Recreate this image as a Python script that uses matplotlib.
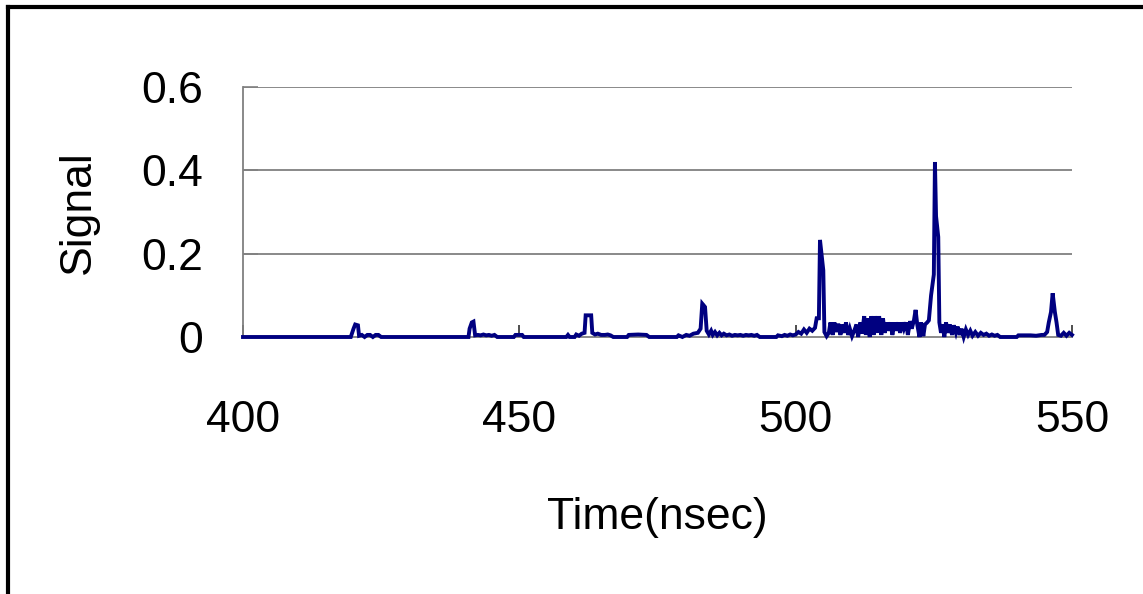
import matplotlib
matplotlib.use("Agg")
import matplotlib.pyplot as plt
from matplotlib import font_manager
from matplotlib.lines import Line2D

# ---- data ----
time_ns = [
    400.0, 419.5, 420.0, 420.3, 420.8, 421.0, 421.5, 422.0, 422.5, 423.0, 423.5, 424.0, 424.5, 425.0,
    440.8, 441.0, 441.4, 441.7, 442.0, 442.5, 443.0, 443.5, 444.0, 444.5, 445.0, 445.5, 446.0,
    449.0, 449.3, 450.5, 450.8,
    458.5, 458.8, 459.1, 460.0, 460.3, 460.8, 461.3, 461.8, 462.0, 463.0, 463.2, 463.7, 464.2, 464.8,
    465.5, 466.0, 466.5, 467.0, 469.5, 469.8, 471.5, 473.0, 473.5,
    478.5, 478.8, 479.5, 480.2, 480.8, 481.5, 482.3, 482.8, 483.1, 483.6, 483.9, 484.3, 484.7, 485.0,
    485.4, 485.8, 486.2, 486.6, 487.0, 487.5, 488.0, 488.5, 489.0, 489.5, 490.0, 490.5, 491.0, 491.5,
    492.0, 492.5, 493.0, 493.5,
    496.5, 496.8, 497.5, 498.0, 498.5, 499.0, 499.5, 500.0, 500.5, 501.0, 501.5, 502.0, 502.5, 503.0,
    503.5, 503.8, 504.2, 504.4, 505.0, 505.2, 505.6,
    506.0, 506.3, 506.7, 507.0, 507.4, 507.7, 508.1, 508.4, 508.8, 509.1, 509.5, 509.8, 510.2, 510.6,
    511.0, 511.3, 511.7, 512.0, 512.4, 512.7, 513.0, 513.4, 513.7, 514.1, 514.4, 514.8, 515.1, 515.5,
    515.8, 516.1, 516.5, 516.8, 517.2, 517.5, 517.9, 518.2, 518.6, 518.9, 519.3, 519.6, 520.0, 520.3,
    520.7, 521.0, 521.4, 521.7, 522.0, 522.4, 522.7, 523.1, 523.4, 523.8, 524.1,
    524.5, 525.0, 525.2, 525.4, 525.8, 526.0, 526.3, 526.6, 526.9, 527.2, 527.6, 527.9, 528.3, 528.6,
    529.0, 529.3, 529.7, 530.0, 530.4, 530.8, 531.2, 531.6, 532.0, 532.5, 533.0, 533.5, 534.0, 534.5,
    535.0, 535.5, 536.0, 536.5, 537.0,
    540.0, 540.3, 542.5, 543.5, 544.5, 545.0, 545.5, 545.8, 546.2, 546.5, 546.9, 547.2, 547.5, 548.0,
    548.5, 549.0, 549.5, 550.0,
]
signal = [
    0.0, 0.0, 0.02, 0.03, 0.028, 0.003, 0.005, 0.0, 0.005, 0.005, 0.0, 0.005, 0.005, 0.0,
    0.0, 0.02, 0.035, 0.037, 0.004, 0.005, 0.004, 0.006, 0.004, 0.005, 0.003, 0.005, 0.0,
    0.0, 0.005, 0.005, 0.0,
    0.0, 0.005, 0.0, 0.0, 0.006, 0.003, 0.008, 0.01, 0.052, 0.052, 0.01, 0.006, 0.008, 0.005,
    0.005, 0.006, 0.004, 0.0, 0.0, 0.005, 0.006, 0.005, 0.0,
    0.0, 0.004, 0.0, 0.005, 0.003, 0.008, 0.01, 0.02, 0.08, 0.072, 0.015, 0.006, 0.015, 0.005,
    0.012, 0.004, 0.01, 0.004, 0.008, 0.004, 0.006, 0.003, 0.005, 0.004, 0.005, 0.003, 0.005, 0.004,
    0.005, 0.003, 0.005, 0.0,
    0.0, 0.004, 0.002, 0.005, 0.003, 0.006, 0.004, 0.006, 0.012, 0.008, 0.018, 0.01, 0.02, 0.015,
    0.022, 0.045, 0.045, 0.233, 0.16, 0.012, 0.002,
    0.01, 0.035, 0.005, 0.035, 0.012, 0.032, 0.005, 0.03, 0.01, 0.035, 0.005, 0.02, 0.002, 0.015,
    0.03, 0.0, 0.035, 0.008, 0.05, 0.005, 0.045, 0.0, 0.05, 0.005, 0.05, 0.01, 0.05, 0.005,
    0.045, 0.01, 0.035, 0.015, 0.035, 0.005, 0.035, 0.015, 0.035, 0.01, 0.035, 0.02, 0.035, 0.005,
    0.038, 0.02, 0.04, 0.065, 0.03, 0.0, 0.035, 0.002, 0.03, 0.035, 0.04,
    0.1, 0.15, 0.42, 0.29, 0.24, 0.035, 0.01, 0.03, 0.0, 0.035, 0.01, 0.03, 0.005, 0.028,
    0.01, 0.025, 0.005, 0.02, 0.0, 0.018, 0.005, 0.015, 0.003, 0.012, 0.003, 0.01, 0.005, 0.008,
    0.003, 0.006, 0.003, 0.005, 0.0,
    0.0, 0.004, 0.004, 0.003, 0.005, 0.005, 0.012, 0.035, 0.06, 0.105, 0.06, 0.035, 0.005, 0.003,
    0.01, 0.003, 0.01, 0.005,
]
x_ticks = [400, 450, 500, 550]
y_ticks = [0, 0.2, 0.4, 0.6]
y_tick_labels = ["0", "0.2", "0.4", "0.6"]
x_label = "Time(nsec)"
y_label = "Signal"

# ---- fonts ----
names = {f.name for f in font_manager.fontManager.ttflist}
if "Liberation Sans Narrow" in names:
    fam, fs = "Liberation Sans Narrow", 37
else:
    fam, fs = "Liberation Sans", 32
plt.rcParams["font.family"] = [fam, "DejaVu Sans"]

W, H = 1143, 594
fig = plt.figure(figsize=(W / 100, H / 100), dpi=100)
ax = fig.add_axes([243 / W, 1 - 337 / H, (1072 - 243) / W, (337 - 87) / H])

ax.plot(time_ns, signal, color="#000080", lw=2.8, clip_on=False, zorder=3,
        solid_joinstyle="miter")
ax.set_xlim(400, 550)
ax.set_ylim(0, 0.6)

for v in y_ticks[1:]:
    ax.axhline(v, color="#808080", lw=1.3, zorder=1)

for s in ["top", "right"]:
    ax.spines[s].set_visible(False)
for s in ["left", "bottom"]:
    ax.spines[s].set_color("#808080")
    ax.spines[s].set_linewidth(1.3)

ax.set_xticks(x_ticks)
ax.set_xticklabels([str(t) for t in x_ticks])
ax.set_yticks(y_ticks)
ax.set_yticklabels(y_tick_labels)
ax.tick_params(axis="y", direction="in", length=11, width=1.2, color="#808080",
               pad=29, labelsize=fs)
ax.tick_params(axis="x", direction="in", length=9, width=1.2, color="#303030",
               pad=45, labelsize=fs)

ax.set_xlabel(x_label, fontsize=fs, labelpad=41)
ax.set_ylabel(y_label, fontsize=fs, labelpad=30)

# outer frame
fig.add_artist(Line2D([8 / W, 1.0], [1 - 7 / H, 1 - 7 / H], color="black", lw=3,
                      transform=fig.transFigure))
fig.add_artist(Line2D([8 / W, 8 / W], [0, 1 - 7 / H], color="black", lw=3,
                      transform=fig.transFigure))

fig.savefig("out.png", dpi=100)
